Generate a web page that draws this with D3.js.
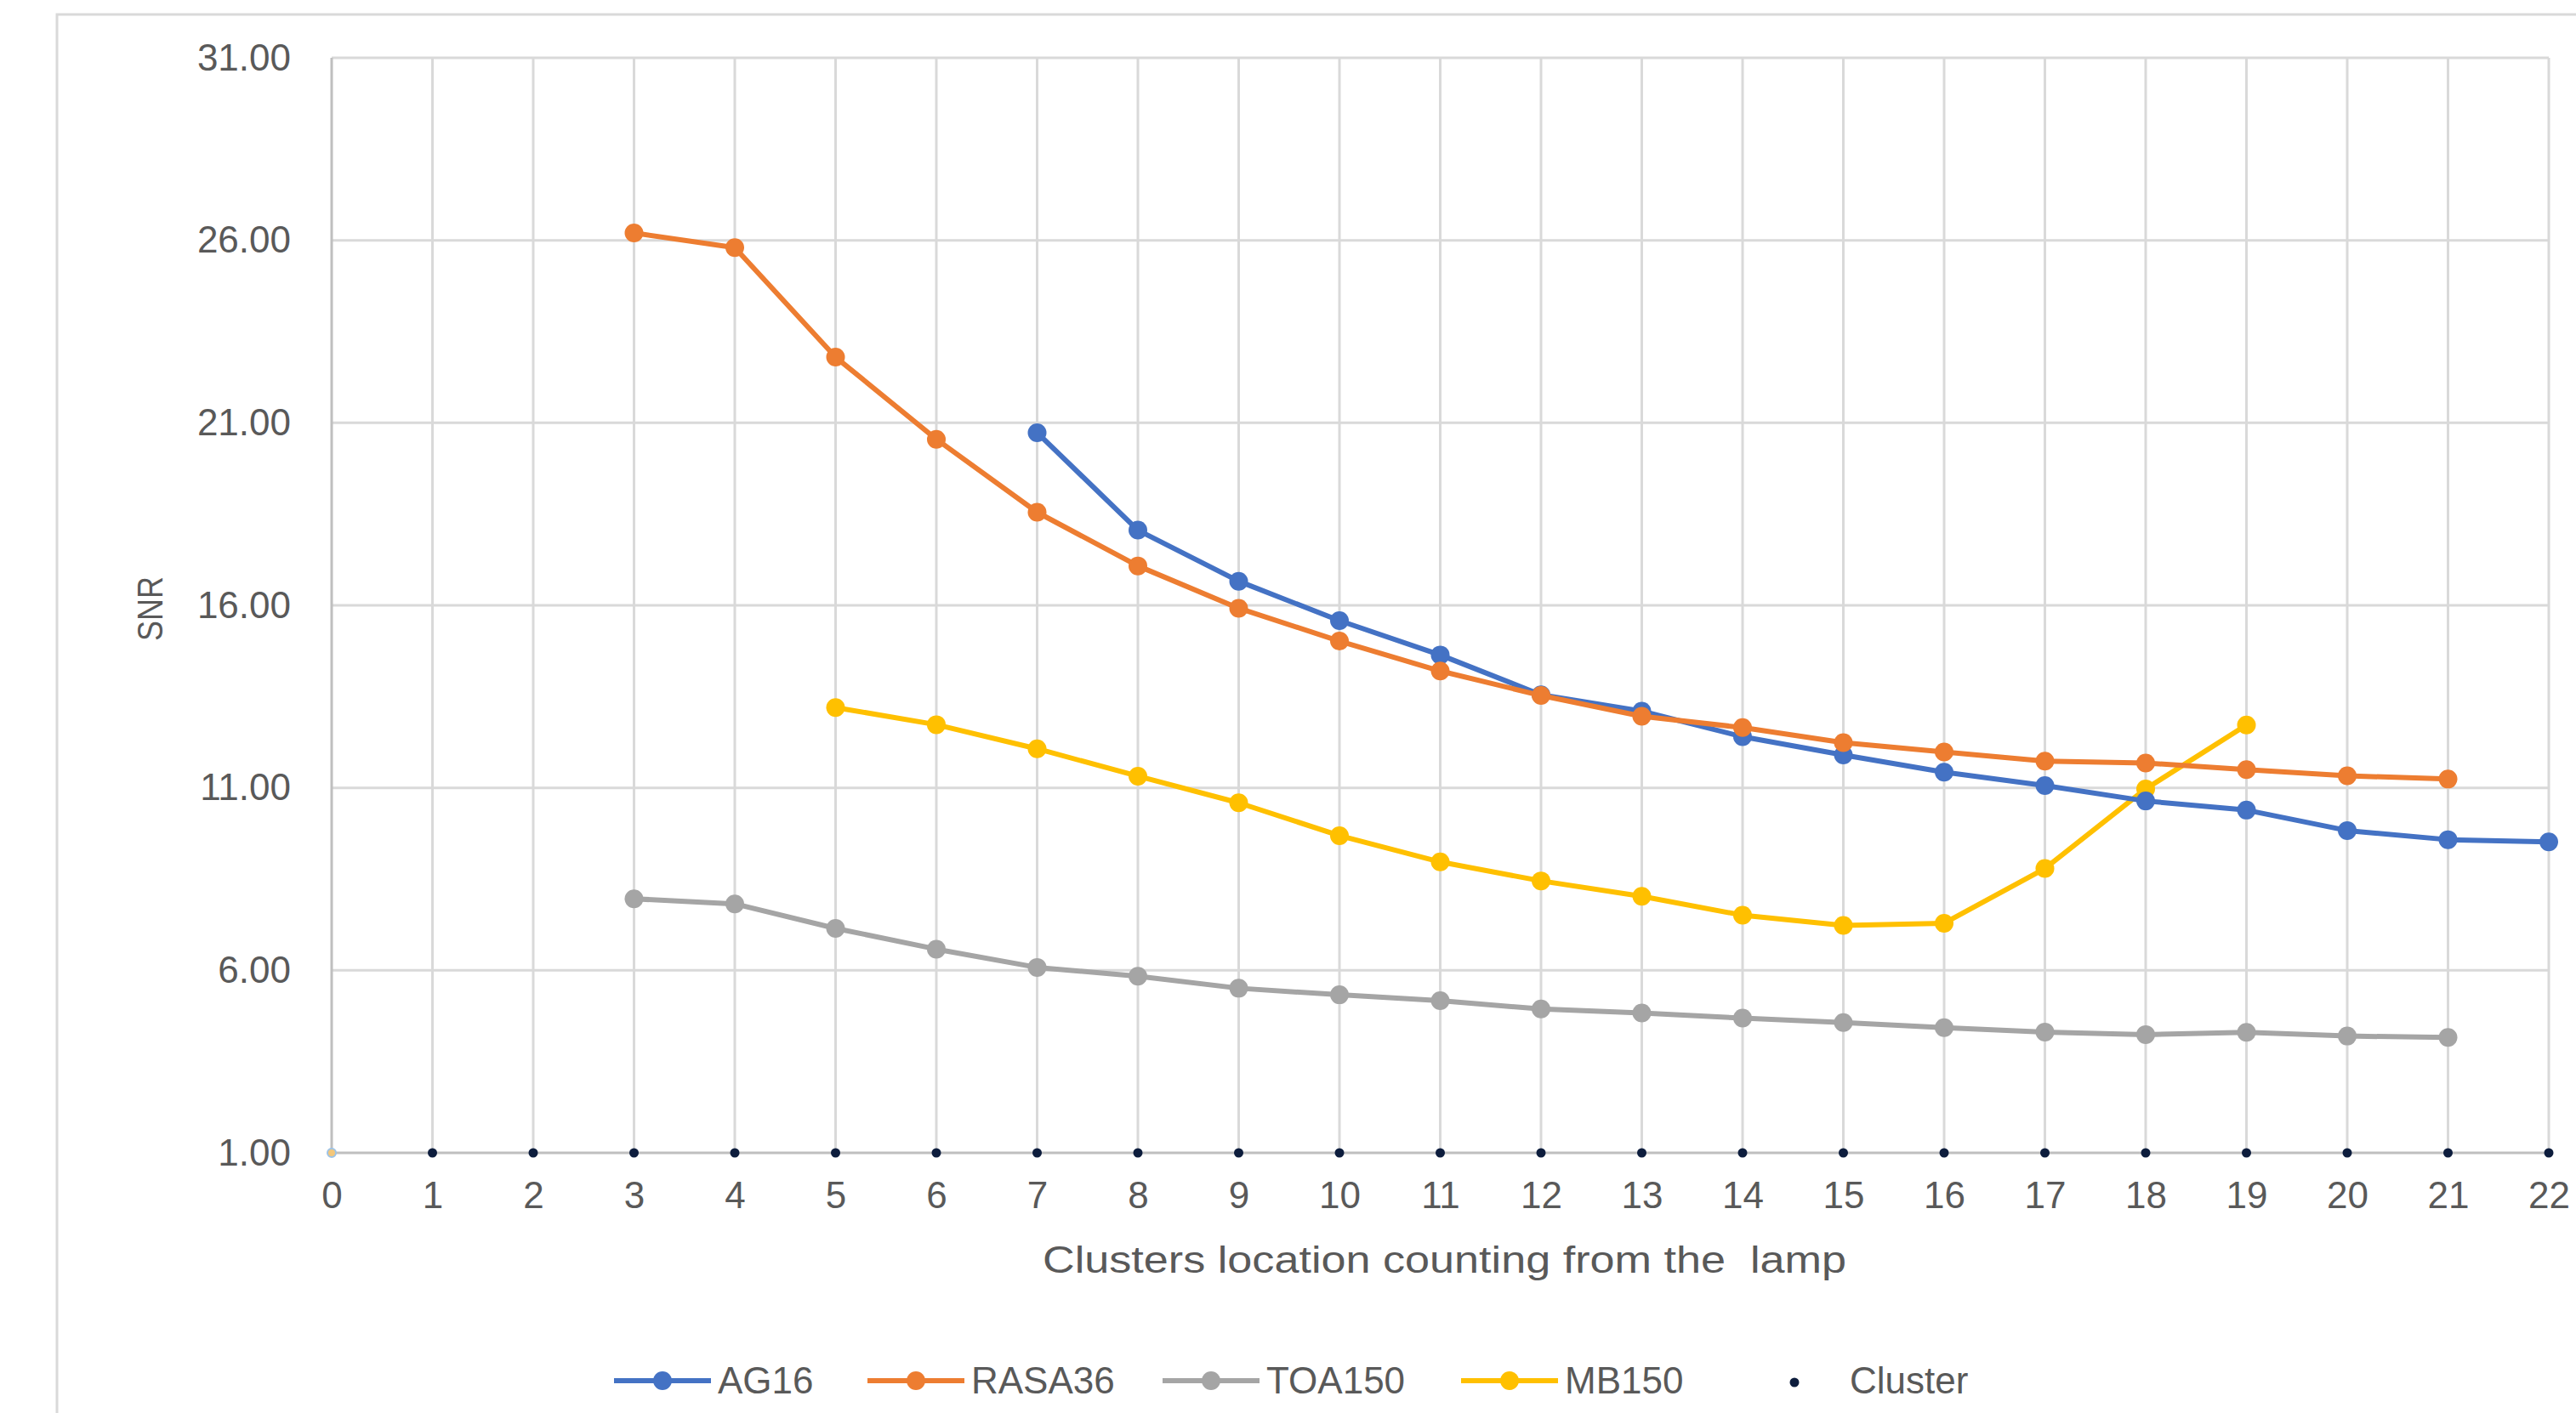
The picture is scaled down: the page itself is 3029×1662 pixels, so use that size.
<!DOCTYPE html>
<html>
<head>
<meta charset="utf-8">
<script src="https://cdn.jsdelivr.net/npm/d3@7/dist/d3.min.js"></script>
<style>
  html, body { margin: 0; padding: 0; background: #ffffff; }
  svg { display: block; }
  text { font-family: "Liberation Sans", Arial, sans-serif; fill: #595959; }
</style>
</head>
<body>
<svg id="chart" width="3029" height="1662"></svg>
<script>
// ---- data ----
const xTicks = [0,1,2,3,4,5,6,7,8,9,10,11,12,13,14,15,16,17,18,19,20,21,22];
const yTicks = [1, 6, 11, 16, 21, 26, 31];

const ag16X = [7,8,9,10,11,12,13,14,15,16,17,18,19,20,21,22];
const ag16Y = [20.73,18.06,16.66,15.58,14.64,13.55,13.10,12.40,11.90,11.43,11.06,10.64,10.39,9.83,9.58,9.52];

const rasa36X = [3,4,5,6,7,8,9,10,11,12,13,14,15,16,17,18,19,20,21];
const rasa36Y = [26.2,25.8,22.8,20.55,18.55,17.08,15.92,15.02,14.2,13.53,12.96,12.65,12.24,11.98,11.73,11.68,11.5,11.33,11.24];

const toa150X = [3,4,5,6,7,8,9,10,11,12,13,14,15,16,17,18,19,20,21];
const toa150Y = [7.96,7.82,7.15,6.58,6.08,5.84,5.51,5.33,5.17,4.94,4.83,4.69,4.57,4.43,4.31,4.24,4.30,4.20,4.16];

const mb150X = [5,6,7,8,9,10,11,12,13,14,15,16,17,18,19];
const mb150Y = [13.2,12.73,12.07,11.32,10.59,9.69,8.97,8.45,8.03,7.51,7.23,7.29,8.79,10.97,12.72];

const clusterX = [0,1,2,3,4,5,6,7,8,9,10,11,12,13,14,15,16,17,18,19,20,21,22];
const clusterY = [1,1,1,1,1,1,1,1,1,1,1,1,1,1,1,1,1,1,1,1,1,1,1];

const seriesNames = ["AG16", "RASA36", "TOA150", "MB150"];
const seriesColors = ["#4472C4", "#ED7D31", "#A5A5A5", "#FFC000"];
const clusterName = "Cluster";
const clusterColor = "#0d1d3d";

const xTitle = "Clusters location counting from the  lamp";
const yTitle = "SNR";

// ---- layout ----
const svg = d3.select("#chart");
const plot = { left: 390, right: 2997, top: 68, bottom: 1356 };

const x = d3.scaleLinear().domain([0, 22]).range([plot.left, plot.right]);
const y = d3.scaleLinear().domain([1, 31]).range([plot.bottom, plot.top]);

// outer chart border (left and top only visible)
svg.append("path")
  .attr("d", `M67,1662 L67,17 L3029,17`)
  .attr("fill", "none")
  .attr("stroke", "#d9d9d9")
  .attr("stroke-width", 3);

// gridlines
const grid = svg.append("g");
grid.selectAll(".hg").data(yTicks).join("line")
  .attr("x1", plot.left).attr("x2", plot.right)
  .attr("y1", d => y(d)).attr("y2", d => y(d))
  .attr("stroke", d => d === 1 ? "#bfbfbf" : "#d9d9d9")
  .attr("stroke-width", 3);
grid.selectAll(".vg").data(xTicks).join("line")
  .attr("x1", d => x(d)).attr("x2", d => x(d))
  .attr("y1", plot.top).attr("y2", plot.bottom)
  .attr("stroke", d => d === 0 ? "#bfbfbf" : "#d9d9d9")
  .attr("stroke-width", 3);

// axes labels via d3 axes
const yAxis = d3.axisLeft(y).tickValues(yTicks).tickSize(0).tickPadding(0)
  .tickFormat(d3.format(".2f"));
const gy = svg.append("g").attr("transform", `translate(${plot.left - 48},0)`).call(yAxis);
gy.select(".domain").remove();
gy.selectAll("text").attr("font-size", 44).attr("fill", "#595959")
  .attr("font-family", "Liberation Sans, Arial, sans-serif");

const xAxis = d3.axisBottom(x).tickValues(xTicks).tickSize(0).tickPadding(0)
  .tickFormat(d3.format("d"));
const gx = svg.append("g").attr("transform", `translate(0,${plot.bottom + 34})`).call(xAxis);
gx.select(".domain").remove();
gx.selectAll("text").attr("font-size", 44).attr("fill", "#595959")
  .attr("font-family", "Liberation Sans, Arial, sans-serif");

// axis titles
svg.append("text")
  .attr("x", (plot.left + plot.right) / 2 + 5)
  .attr("y", 1497)
  .attr("text-anchor", "middle")
  .attr("font-size", 44)
  .attr("textLength", 945)
  .attr("lengthAdjust", "spacingAndGlyphs")
  .style("white-space", "pre")
  .text(xTitle);

svg.append("text")
  .attr("transform", `translate(191,716) rotate(-90)`)
  .attr("text-anchor", "middle")
  .attr("font-size", 42)
  .attr("textLength", 76)
  .attr("lengthAdjust", "spacingAndGlyphs")
  .text(yTitle);

// series
const seriesData = [
  ag16X.map((v, i) => [v, ag16Y[i]]),
  rasa36X.map((v, i) => [v, rasa36Y[i]]),
  toa150X.map((v, i) => [v, toa150Y[i]]),
  mb150X.map((v, i) => [v, mb150Y[i]])
];
const line = d3.line().x(d => x(d[0])).y(d => y(d[1]));

const drawOrder = [2, 3, 0, 1];
drawOrder.forEach(si => {
  const g = svg.append("g");
  g.append("path")
    .datum(seriesData[si])
    .attr("d", line)
    .attr("fill", "none")
    .attr("stroke", seriesColors[si])
    .attr("stroke-width", 6)
    .attr("stroke-linejoin", "round");
  g.selectAll("circle").data(seriesData[si]).join("circle")
    .attr("cx", d => x(d[0])).attr("cy", d => y(d[1]))
    .attr("r", 11)
    .attr("fill", seriesColors[si]);
});

// clusters
const clusterData = clusterX.map((v, i) => [v, clusterY[i]]);
svg.append("g").selectAll("circle").data(clusterData).join("circle")
  .attr("cx", d => x(d[0])).attr("cy", d => y(d[1]))
  .attr("r", d => d[0] === 0 ? 5 : 5.5)
  .attr("fill", d => d[0] === 0 ? "#f4c77a" : clusterColor)
  .attr("stroke", d => d[0] === 0 ? "#9dc3e6" : "none")
  .attr("stroke-width", 2);

// legend
const legendY = 1624;
const legendItems = [
  { name: seriesNames[0], color: seriesColors[0], x0: 722, type: "line" },
  { name: seriesNames[1], color: seriesColors[1], x0: 1020, type: "line" },
  { name: seriesNames[2], color: seriesColors[2], x0: 1367, type: "line" },
  { name: seriesNames[3], color: seriesColors[3], x0: 1718, type: "line" },
  { name: clusterName, color: clusterColor, x0: 2080, type: "dot" }
];
const lg = svg.append("g");
legendItems.forEach(it => {
  if (it.type === "line") {
    lg.append("line")
      .attr("x1", it.x0).attr("x2", it.x0 + 114)
      .attr("y1", legendY).attr("y2", legendY)
      .attr("stroke", it.color).attr("stroke-width", 6);
    lg.append("circle")
      .attr("cx", it.x0 + 57).attr("cy", legendY).attr("r", 11)
      .attr("fill", it.color);
    lg.append("text")
      .attr("x", it.x0 + 122).attr("y", legendY + 15)
      .attr("font-size", 44)
      .text(it.name);
  } else {
    lg.append("circle")
      .attr("cx", it.x0 + 30).attr("cy", legendY + 2).attr("r", 5.5)
      .attr("fill", it.color);
    lg.append("text")
      .attr("x", it.x0 + 95).attr("y", legendY + 15)
      .attr("font-size", 44)
      .text(it.name);
  }
});
</script>
</body>
</html>
